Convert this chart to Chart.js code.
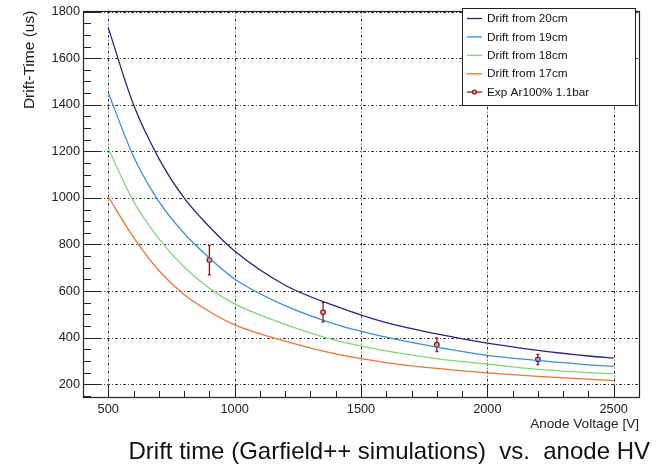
<!DOCTYPE html>
<html>
<head>
<meta charset="utf-8">
<title>Drift time vs anode HV</title>
<script src="https://cdn.jsdelivr.net/npm/chart.js@4.4.0/dist/chart.umd.min.js"></script>
<style>
  html, body { margin: 0; padding: 0; background: #fff; }
  #wrap { position: relative; width: 662px; height: 470px; }
  #caption {
    position: absolute; top: 436px; right: 12px;
    font: 24px "Liberation Sans", Arial, sans-serif; line-height: 30px;
    white-space: pre; color: #111;
  }
</style>
</head>
<body>
<div id="wrap">
  <canvas id="chart" width="662" height="470"></canvas>
  <div id="caption">Drift time (Garfield++ simulations)  vs.  anode HV</div>
</div>
<script>
"use strict";

// simulated drift time (us) vs anode voltage (V)
var voltages = [500, 600, 700, 800, 900, 1000, 1200, 1400, 1600, 1800, 2000, 2200, 2400, 2500];
var drift20 = [1730, 1400, 1170, 1000, 876, 772, 625, 535, 464, 416, 376, 345, 321, 312];
var drift19 = [1452, 1178, 985, 848, 742, 652, 537, 457, 402, 359, 324, 302, 283, 276];
var drift18 = [1212, 985, 825, 703, 612, 545, 457, 388, 343, 310, 286, 264, 250, 245];
var drift17 = [1005, 830, 688, 585, 512, 455, 385, 330, 293, 268, 249, 234, 222, 215];

// measurement
var expVoltages = [900, 1350, 1800, 2200];
var expTimes = [733, 509, 369, 306];
var expErrors = [63, 42, 29, 22];

var seriesNames = ["Drift from 20cm", "Drift from 19cm", "Drift from 18cm", "Drift from 17cm"];
var expName = "Exp Ar100% 1.1bar";

var xTicks = [500, 1000, 1500, 2000, 2500];
var yTicks = [200, 400, 600, 800, 1000, 1200, 1400, 1600, 1800];

var FONT = '"Liberation Sans", Arial, sans-serif';
var lineColors = ["#27277c", "#3d8fda", "#80d67c", "#e8773a"];
var expColor = "#8a1c1c";

function toPoints(xs, ys) {
  return xs.map(function (x, i) {
    return { x: x, y: ys[i] };
  });
}

function hline(ctx, x1, x2, y) {
  ctx.beginPath();
  ctx.moveTo(x1, y);
  ctx.lineTo(x2, y);
  ctx.stroke();
}

function vline(ctx, x, y1, y2) {
  ctx.beginPath();
  ctx.moveTo(x, y1);
  ctx.lineTo(x, y2);
  ctx.stroke();
}

function plainNumber(value) {
  return String(value);
}

// ROOT style frame: dotted grid, inner ticks, box, legend, error bars
var rootFrame = {
  id: "rootFrame",
  beforeDatasetsDraw: function (chart) {
    var ctx = chart.ctx;
    var a = chart.chartArea;
    var sx = chart.scales.x;
    var sy = chart.scales.y;
    ctx.save();
    ctx.strokeStyle = "#3a3a3a";
    ctx.lineWidth = 1;
    ctx.setLineDash([3, 2, 1, 2]);
    xTicks.forEach(function (v) {
      vline(ctx, Math.round(sx.getPixelForValue(v)) + 0.5, a.top, a.bottom);
    });
    yTicks.forEach(function (v) {
      hline(ctx, a.left, a.right, Math.round(sy.getPixelForValue(v)) + 0.5);
    });
    ctx.restore();
  },
  afterDatasetsDraw: function (chart) {
    var ctx = chart.ctx;
    var sx = chart.scales.x;
    var sy = chart.scales.y;
    var r = 2.6;
    ctx.save();
    ctx.strokeStyle = expColor;
    ctx.lineWidth = 1.3;
    expVoltages.forEach(function (v, i) {
      var px = sx.getPixelForValue(v);
      var py = sy.getPixelForValue(expTimes[i]);
      var top = sy.getPixelForValue(expTimes[i] + expErrors[i]);
      var bot = sy.getPixelForValue(expTimes[i] - expErrors[i]);
      vline(ctx, px, top, py - r);
      vline(ctx, px, py + r, bot);
      hline(ctx, px - 1.5, px + 1.5, top);
      hline(ctx, px - 1.5, px + 1.5, bot);
    });
    ctx.restore();
  },
  afterDraw: function (chart) {
    var ctx = chart.ctx;
    var a = chart.chartArea;
    var sx = chart.scales.x;
    var sy = chart.scales.y;
    var v, px, py;
    ctx.save();

    // inner tick marks
    ctx.strokeStyle = "#222";
    ctx.lineWidth = 1;
    for (v = 400; v <= 2600; v += 100) {
      px = Math.round(sx.getPixelForValue(v)) + 0.5;
      vline(ctx, px, a.bottom, a.bottom - (v % 500 === 0 ? 12 : 6));
    }
    for (v = 150; v <= 1800; v += 50) {
      py = Math.round(sy.getPixelForValue(v)) + 0.5;
      hline(ctx, a.left, a.left + (v % 200 === 0 ? 16 : 8), py);
    }

    // frame
    ctx.lineWidth = 1.2;
    ctx.strokeRect(Math.round(a.left) + 0.5, Math.round(a.top) + 0.5,
      Math.round(a.right - a.left), Math.round(a.bottom - a.top));

    // legend
    var box = { left: 462.5, top: 8.5, right: 635.5, bottom: 105.5 };
    ctx.fillStyle = "#fff";
    ctx.fillRect(box.left, box.top, box.right - box.left, box.bottom - box.top);
    ctx.lineWidth = 1;
    ctx.strokeStyle = "#222";
    ctx.strokeRect(box.left, box.top, box.right - box.left, box.bottom - box.top);

    ctx.font = "11.8px " + FONT;
    ctx.textBaseline = "middle";
    ctx.textAlign = "left";
    chart.data.datasets.forEach(function (ds, i) {
      var cy = 18.5 + i * 18.4;
      ctx.lineWidth = 1.3;
      ctx.strokeStyle = ds.borderColor;
      hline(ctx, 467, 482, cy);
      if (ds.showLine === false) {
        ctx.beginPath();
        ctx.arc(474.5, cy, 2, 0, Math.PI * 2);
        ctx.fillStyle = ds.backgroundColor;
        ctx.fill();
        ctx.stroke();
      }
      ctx.fillStyle = "#111";
      ctx.fillText(ds.label, 487, cy + 0.5);
    });
    ctx.restore();
  }
};

var datasets = [drift20, drift19, drift18, drift17].map(function (ys, i) {
  return {
    label: seriesNames[i],
    data: toPoints(voltages, ys),
    borderColor: lineColors[i],
    borderWidth: 1.3,
    pointRadius: 0,
    cubicInterpolationMode: "monotone",
    fill: false
  };
});

datasets.push({
  label: expName,
  data: toPoints(expVoltages, expTimes),
  showLine: false,
  borderColor: expColor,
  backgroundColor: "#d9a3a3",
  pointRadius: 2.4,
  pointBorderWidth: 1.2,
  pointStyle: "circle"
});

new Chart(document.getElementById("chart"), {
  type: "line",
  data: { datasets: datasets },
  plugins: [rootFrame],
  options: {
    responsive: false,
    devicePixelRatio: 1,
    animation: false,
    layout: { padding: { top: 5, right: 23, left: 0, bottom: 0 } },
    plugins: {
      legend: { display: false },
      tooltip: { enabled: false }
    },
    scales: {
      x: {
        type: "linear",
        min: 400,
        max: 2600,
        grid: { display: false, drawTicks: false },
        border: { display: false },
        ticks: {
          color: "#222",
          font: { family: FONT, size: 12.8 },
          padding: 5,
          maxRotation: 0,
          autoSkip: false,
          callback: plainNumber
        },
        title: {
          display: true,
          text: "Anode Voltage [V]",
          align: "end",
          color: "#222",
          font: { family: FONT, size: 13.6 },
          padding: { top: 0, bottom: 38 }
        },
        afterBuildTicks: function (axis) {
          axis.ticks = xTicks.map(function (v) { return { value: v }; });
        },
        afterFit: function (axis) {
          axis.height = 73;
        }
      },
      y: {
        type: "linear",
        min: 145,
        max: 1804,
        grid: { display: false, drawTicks: false },
        border: { display: false },
        ticks: {
          color: "#222",
          font: { family: FONT, size: 12.8 },
          padding: 3,
          callback: plainNumber
        },
        title: {
          display: true,
          text: "Drift-Time (us)",
          align: "end",
          color: "#222",
          font: { family: FONT, size: 15.5 },
          padding: { top: 20, bottom: 0 }
        },
        afterBuildTicks: function (axis) {
          axis.ticks = yTicks.map(function (v) { return { value: v }; });
        },
        afterFit: function (axis) {
          axis.width = 83;
        }
      }
    }
  }
});
</script>
</body>
</html>
